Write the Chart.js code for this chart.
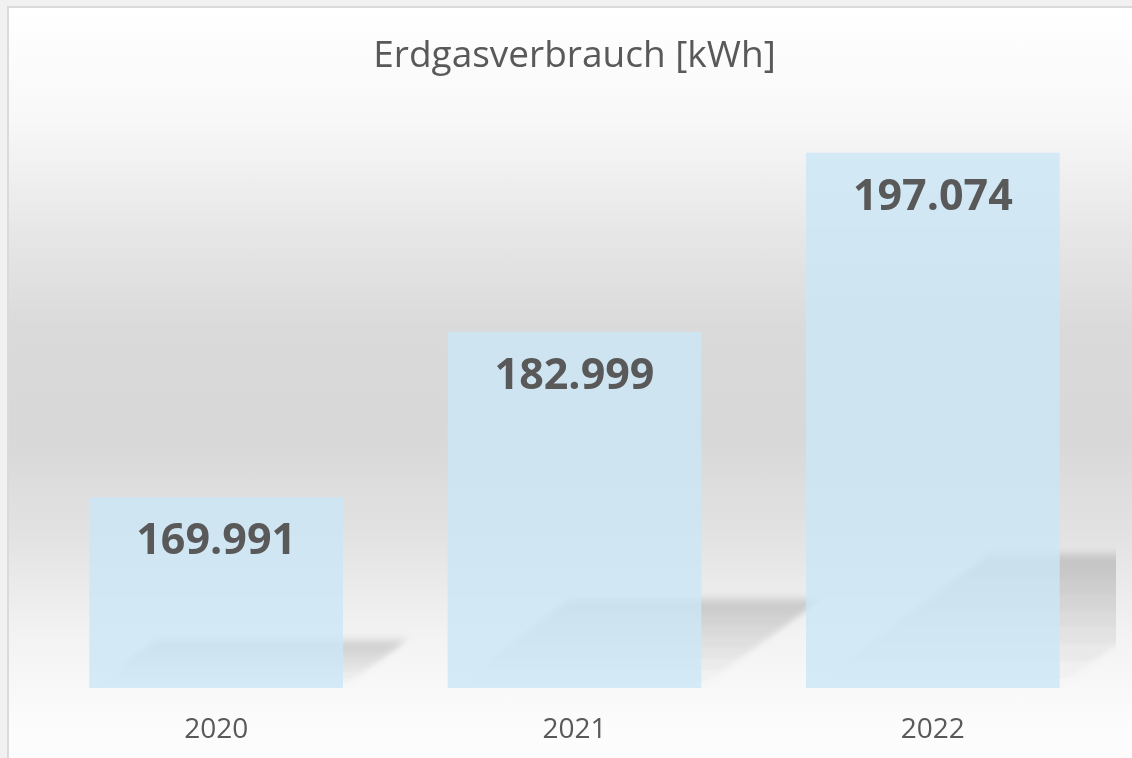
<!DOCTYPE html>
<html>
<head>
<meta charset="utf-8">
<script src="https://cdn.jsdelivr.net/npm/chart.js@4.4.0/dist/chart.umd.min.js"></script>
<style>
  html, body { margin: 0; padding: 0; background: #f1f1f1; overflow: hidden; }
  #frame {
    position: absolute; left: 7px; top: 6px; width: 1140px; height: 770px;
    border: 2px solid #dadada;
    background: linear-gradient(to bottom, #ffffff 0px, #f8f8f8 110px, #e6e6e6 230px,
      #dadada 320px, #d8d8d8 430px, #e3e3e3 530px, #f3f3f3 630px, #fcfcfc 720px);
  }
  #chart { position: absolute; left: 0; top: 0; }
</style>
</head>
<body>
<div id="frame"></div>
<canvas id="chart" width="1132" height="758"></canvas>
<script>
const years = ['2020', '2021', '2022'];
const consumption = [169991, 182999, 197074];
const axisMin = 155000;
const axisMax = 200000;

function formatDe(v) {
    return String(v).replace(/\B(?=(\d{3})+(?!\d))/g, '.');
}

// perspective shadow cast behind each bar, drawn before the bars
const barShadow = {
    id: 'barShadow',
    beforeDatasetsDraw(chart) {
        const ctx = chart.ctx;
        const area = chart.chartArea;
        const meta = chart.getDatasetMeta(0);
        ctx.save();
        ctx.beginPath();
        ctx.rect(area.left, area.top, area.right - area.left + 4, area.bottom - area.top);
        ctx.clip();
        ctx.filter = 'blur(3px)';
        meta.data.forEach(bar => {
            // bars start at 0, far below the axis min, so clamp to the visible bottom
            const base = Math.min(bar.base, area.bottom);
            const h = base - bar.y;
            const x0 = bar.x - bar.width / 2, x1 = bar.x + bar.width / 2;
            const dx = h * 0.34, dy = h * 0.25;
            for (let k = 0; k < 5; k++) {
                const e = (k - 2) * 2;
                const g = ctx.createLinearGradient(0, base - dy - e, 0, base);
                g.addColorStop(0, 'rgba(0,0,0,0.034)');
                g.addColorStop(0.6, 'rgba(0,0,0,0.017)');
                g.addColorStop(1, 'rgba(0,0,0,0.002)');
                ctx.fillStyle = g;
                ctx.beginPath();
                ctx.moveTo(x0, base);
                ctx.lineTo(x1 - e, base);
                ctx.lineTo(x1 + dx + e, base - dy - e);
                ctx.lineTo(x0 + dx, base - dy - e);
                ctx.closePath();
                ctx.fill();
            }
        });
        ctx.restore();
    }
};

// bold value inside the top of each bar
const valueLabels = {
    id: 'valueLabels',
    afterDatasetsDraw(chart) {
        const ctx = chart.ctx;
        const meta = chart.getDatasetMeta(0);
        ctx.save();
        ctx.font = 'bold 43px "Open Sans"';
        ctx.fillStyle = '#595959';
        ctx.textAlign = 'center';
        ctx.textBaseline = 'middle';
        meta.data.forEach((bar, i) => {
            ctx.fillText(formatDe(consumption[i]), bar.x, bar.y + 45);
        });
        ctx.restore();
    }
};

new Chart(document.getElementById('chart'), {
    type: 'bar',
    data: {
        labels: years,
        datasets: [{
            label: 'Erdgasverbrauch',
            data: consumption,
            backgroundColor: 'rgba(204,230,246,0.8)',
            borderWidth: 0,
            barPercentage: 0.708,
            categoryPercentage: 1
        }]
    },
    options: {
        responsive: false,
        animation: false,
        devicePixelRatio: 1,
        layout: { padding: { left: 37, right: 20, top: 8, bottom: 13 } },
        plugins: {
            legend: { display: false },
            tooltip: { enabled: false },
            title: {
                display: true,
                text: 'Erdgasverbrauch [kWh]',
                color: '#595959',
                font: { family: '"Open Sans"', size: 37, weight: 'normal' },
                padding: { top: 26, bottom: 37 }
            }
        },
        scales: {
            x: {
                grid: { display: false, drawTicks: false },
                border: { display: false },
                ticks: {
                    color: '#595959',
                    padding: 25,
                    font: { family: '"Open Sans"', size: 28 }
                },
                afterFit(scale) { scale.height = 57; }
            },
            y: {
                display: false,
                min: axisMin,
                max: axisMax
            }
        }
    },
    plugins: [barShadow, valueLabels]
});
</script>
</body>
</html>
